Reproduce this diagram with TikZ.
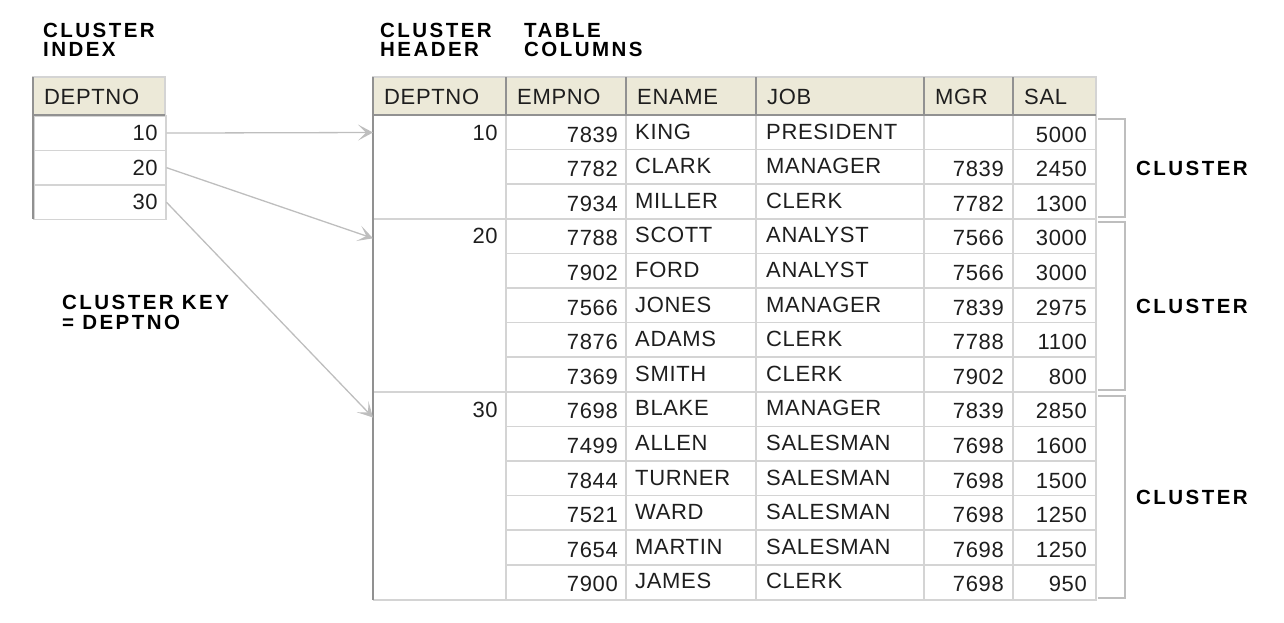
\documentclass[tikz,border=0pt]{standalone}
\usepackage{fontspec}
\setmainfont{Liberation Sans}[LetterSpace=3]
\newfontfamily\lblfont{Liberation Sans}[LetterSpace=12]
\usepackage{tikz}
\usetikzlibrary{arrows.meta, positioning, calc}
\definecolor{hdrfill}{RGB}{236,233,216}
\definecolor{rulegray}{RGB}{212,212,212}
\definecolor{edgegray}{RGB}{145,145,145}
\definecolor{linkgray}{RGB}{190,190,190}
\definecolor{inkgray}{RGB}{30,30,30}

\begin{document}
\begin{tikzpicture}[x=1pt, y=-1pt, >={Stealth[length=15pt,width=16pt,inset=8pt]},
  lbl/.style={font=\lblfont\bfseries\fontsize{20.5}{19.5}\selectfont, align=left, inner sep=0pt, anchor=north west},
  txt/.style={font=\fontsize{22}{22}\selectfont, text=inkgray, inner sep=0pt},
  num/.style={txt, anchor=base east},
  word/.style={txt, anchor=base west},
  idxcell/.style={txt, draw=rulegray, line width=1.5pt, minimum width=132, minimum height=34.6,
    text width=116, inner xsep=8, align=right, anchor=north west},
  deptcell/.style={txt, minimum height=34.6, text width=116, inner xsep=8.5, align=right, anchor=north west},
  rowline/.style={rulegray, line width=1.5pt},
  edge/.style={edgegray, line width=1.5pt},
  brk/.style={linkgray, line width=1.5pt},
  link/.style={linkgray, line width=1.3pt}]
  \useasboundingbox (0,0) rectangle (1284,622);

  % --- Cluster index ---
  \node[lbl] (idxlbl) at (43,22.7) {CLUSTER\\INDEX};
  \filldraw[fill=hdrfill, draw=rulegray, line width=1.5pt] (33,77) rectangle (165,115);
  \node[word] (idxhd) at (44,104) {DEPTNO};
  \foreach \k [count=\i] in {10,20,30}
    \node[idxcell] (idx\k) at (33,{115+34.6*(\i-1)}) {\k};
  \draw[edge] (33,77) -- (33,219);
  \draw[edge] (33,115) -- (165,115);
  \node[lbl] (keylbl) at (62,295) {CLUSTER KEY\\= DEPTNO};

  % --- Clustered table ---
  \node[lbl] (hdrlbl) at (380,22.7) {CLUSTER\\HEADER};
  \node[lbl] (collbl) at (524,22.7) {TABLE\\COLUMNS};
  \filldraw[fill=hdrfill, draw=rulegray, line width=1.5pt] (373,77) rectangle (1096,115);
  \foreach \x/\name in {373/DEPTNO,506/EMPNO,626/ENAME,756/JOB,924/MGR,1013/SAL}
    \node[word] (h\name) at (\x+11,104) {\name};
  \foreach \x in {506,626,756,924,1013} {
    \draw[edge] (\x,77) -- (\x,115);
    \draw[rowline] (\x,115) -- (\x,600);
  }
  \foreach \r in {1,...,13}
    \draw[rowline] (506,{115+34.6*\r}) -- (1096,{115+34.6*\r});
  \draw[rowline] (373,218.8) -- (506,218.8);
  \draw[rowline] (373,392.0) -- (506,392.0);
  \draw[rowline] (373,600) -- (1096,600) -- (1096,115);
  \draw[edge] (373,77) -- (373,600);
  \draw[edge] (373,115) -- (1096,115);

  % cluster key values
  \node[deptcell] (hd10) at (373,115) {10};
  \node[deptcell] (hd20) at (373,218.8) {20};
  \node[deptcell] (hd30) at (373,392.0) {30};

  % rows
  \foreach \e/\n/\j/\m/\s [count=\r] in {
      7839/KING/PRESIDENT/{}/5000, 7782/CLARK/MANAGER/7839/2450, 7934/MILLER/CLERK/7782/1300,
      7788/SCOTT/ANALYST/7566/3000, 7902/FORD/ANALYST/7566/3000, 7566/JONES/MANAGER/7839/2975,
      7876/ADAMS/CLERK/7788/1100, 7369/SMITH/CLERK/7902/800,
      7698/BLAKE/MANAGER/7839/2850, 7499/ALLEN/SALESMAN/7698/1600, 7844/TURNER/SALESMAN/7698/1500,
      7521/WARD/SALESMAN/7698/1250, 7654/MARTIN/SALESMAN/7698/1250, 7900/JAMES/CLERK/7698/950} {
    \pgfmathsetmacro\yb{115+34.6*\r-7.6}
    \node[num] (e\r) at (618,\yb) {\e};
    \node[word, yshift=3] (n\r) at (635,\yb) {\n};
    \node[word, yshift=3] (j\r) at (766,\yb) {\j};
    \node[num] (m\r) at (1004,\yb) {\m};
    \node[num] (s\r) at (1087,\yb) {\s};
  }

  % clusters
  \foreach \a/\b/\k in {119/217/1, 222/390/2, 396/598/3} {
    \draw[brk] (1098,\a) -| (1125,\b) -- (1098,\b);
    \node[lbl, anchor=west] (cl\k) at (1136,{(\a+\b)/2}) {CLUSTER};
  }

  % index pointers
  \draw[link, ->] (idx10.east) -- (hd10.west);
  \draw[link, ->] (idx20.east) -- ([yshift=-2]hd20.west);
  \draw[link, ->] (idx30.east) -- ([yshift=-8]hd30.west);
\end{tikzpicture}
\end{document}
